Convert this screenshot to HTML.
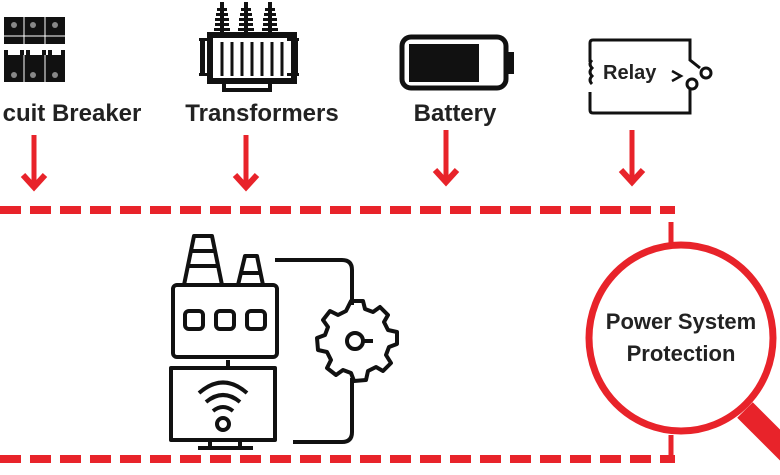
<!DOCTYPE html>
<html><head><style>
body{margin:0;width:780px;height:470px;overflow:hidden;background:#fff;font-family:"Liberation Sans",sans-serif;}
</style></head><body>
<svg width="780" height="470" xmlns="http://www.w3.org/2000/svg">
<defs>
<g id="arr"><line x1="0" y1="0" x2="0" y2="50" stroke="#e8232a" stroke-width="5"/><polyline points="-11,40 0,52 11,40" fill="none" stroke="#e8232a" stroke-width="6"/></g>
<g id="ins" fill="#111"><rect x="-2" y="0" width="4" height="32"/><rect x="-5" y="6" width="10" height="3"/><rect x="-6" y="11" width="12" height="3"/><rect x="-7" y="16" width="14" height="3"/><rect x="-7" y="21" width="14" height="3"/><rect x="-8" y="26" width="16" height="3"/></g>
</defs>
<!-- circuit breaker -->
<g fill="#111">
<rect x="4" y="17" width="61" height="27"/><rect x="4" y="55" width="61" height="27"/>
<rect x="4" y="50" width="4" height="6"/><rect x="20" y="50" width="4" height="6"/><rect x="26" y="50" width="4" height="6"/><rect x="42" y="50" width="4" height="6"/><rect x="48" y="50" width="4" height="6"/><rect x="61" y="50" width="4" height="6"/>
</g>
<g stroke="#fff" stroke-width="1"><line x1="24" y1="17" x2="24" y2="44"/><line x1="45" y1="17" x2="45" y2="44"/><line x1="24" y1="55" x2="24" y2="82"/><line x1="45" y1="55" x2="45" y2="82"/><line x1="4" y1="36" x2="65" y2="36"/></g>
<g fill="#888"><circle cx="14" cy="25" r="3"/><circle cx="33" cy="25" r="3"/><circle cx="55" cy="25" r="3"/><circle cx="14" cy="75" r="3"/><circle cx="33" cy="75" r="3"/><circle cx="55" cy="75" r="3"/></g>
<g font-size="24" font-weight="bold" fill="#222" text-anchor="middle">
<text x="72" y="121">cuit Breaker</text>
<text x="262" y="121">Transformers</text>
<text x="455" y="121">Battery</text>
</g>
<!-- transformer -->
<use href="#ins" x="222" y="2"/><use href="#ins" x="246" y="2"/><use href="#ins" x="270" y="2"/>
<g fill="#111">
<rect x="210" y="35" width="84" height="46" fill="none" stroke="#111" stroke-width="6"/>
<rect x="200" y="38" width="5" height="38"/><rect x="199" y="38" width="12" height="3"/><rect x="199" y="73" width="12" height="3"/>
<rect x="293" y="38" width="5" height="38"/><rect x="287" y="38" width="12" height="3"/><rect x="287" y="73" width="12" height="3"/>
<rect x="222" y="88" width="50" height="4"/><rect x="222" y="82" width="4" height="10"/><rect x="268" y="82" width="4" height="10"/>
</g>
<g stroke="#111" stroke-width="3"><line x1="222" y1="42" x2="222" y2="76"/><line x1="232" y1="42" x2="232" y2="76"/><line x1="242" y1="42" x2="242" y2="76"/><line x1="252" y1="42" x2="252" y2="76"/><line x1="262" y1="42" x2="262" y2="76"/><line x1="272" y1="42" x2="272" y2="76"/><line x1="282" y1="42" x2="282" y2="76"/></g>
<!-- battery -->
<rect x="402" y="37" width="104" height="51" rx="9" fill="none" stroke="#111" stroke-width="5"/>
<rect x="409" y="44" width="70" height="38" fill="#111"/>
<rect x="507" y="52" width="7" height="22" fill="#111"/>
<!-- relay -->
<path d="M590,62 V43 Q590,40 593,40 H690 V60 L700,68 M690,88 V113 H593 Q590,113 590,110 V92" fill="none" stroke="#111" stroke-width="3"/>
<path d="M592,60 q-4,4 0,8 q-4,4 0,8 q-4,4 0,8" fill="none" stroke="#111" stroke-width="3"/>
<circle cx="706" cy="73" r="5" fill="none" stroke="#111" stroke-width="3"/>
<circle cx="692" cy="84" r="5" fill="none" stroke="#111" stroke-width="3"/>
<text x="603" y="79" font-size="20" font-weight="bold" fill="#222">Relay</text>
<polyline points="672,71 681,76 672,81" fill="none" stroke="#111" stroke-width="2.5"/>
<!-- arrows -->
<use href="#arr" x="34" y="135"/><use href="#arr" x="246" y="135"/><use href="#arr" x="446" y="130"/><use href="#arr" x="632" y="130"/>
<!-- dashed box -->
<line x1="0" y1="210" x2="675" y2="210" stroke="#e8232a" stroke-width="8" stroke-dasharray="21,9"/>
<line x1="0" y1="459" x2="675" y2="459" stroke="#e8232a" stroke-width="8" stroke-dasharray="21,9"/>
<line x1="671" y1="222" x2="671" y2="245" stroke="#e8232a" stroke-width="5"/>
<line x1="671" y1="435" x2="671" y2="455" stroke="#e8232a" stroke-width="5"/>
<!-- magnifier -->
<line x1="745" y1="410" x2="790" y2="455" stroke="#e8232a" stroke-width="22"/>
<ellipse cx="681" cy="338" rx="92" ry="93" fill="#fff" stroke="#e8232a" stroke-width="7"/>
<text x="681" y="329" font-size="22" font-weight="bold" text-anchor="middle" fill="#222">Power System</text>
<text x="681" y="361" font-size="22" font-weight="bold" text-anchor="middle" fill="#222">Protection</text>
<!-- factory -->
<g fill="none" stroke="#111" stroke-width="4" stroke-linejoin="round">
<path d="M184,285 L194,236 H212 L222,285 M188,266 H219 M191,251 H216"/>
<path d="M238,285 L245,256 H257 L263,285 M240,273 H261"/>
<rect x="173" y="285" width="104" height="72" rx="4"/>
<rect x="185" y="311" width="18" height="18" rx="4"/><rect x="216" y="311" width="18" height="18" rx="4"/><rect x="247" y="311" width="18" height="18" rx="4"/>
<line x1="228" y1="360" x2="228" y2="368"/>
<rect x="171" y="368" width="104" height="72"/>
<line x1="210" y1="440" x2="210" y2="448"/><line x1="240" y1="440" x2="240" y2="448"/><line x1="198" y1="448" x2="253" y2="448"/>
<path d="M199,393 Q223,372 247,393 M206,402 Q223,388 240,402 M213,411 Q223,403 233,411"/>
<circle cx="223" cy="424" r="6"/>
<path d="M275,260 H342 Q352,260 352,270 V305 M352,378 V432 Q352,442 342,442 H293"/>
</g>
<!-- gear -->
<g transform="translate(357,341)" fill="none" stroke="#111" stroke-width="4" stroke-linejoin="round">
<path d="M-6,-40 L6,-40 L8,-32 L16,-29 L23,-34 L31,-26 L27,-19 L31,-11 L40,-9 L40,3 L32,6 L29,14 L34,22 L26,30 L19,26 L11,30 L9,39 L-3,40 L-6,32 L-14,29 L-21,34 L-30,27 L-26,19 L-30,11 L-39,9 L-40,-3 L-32,-6 L-29,-14 L-34,-21 L-27,-30 L-19,-26 L-11,-30 Z"/>
<circle cx="-2" cy="0" r="8"/><line x1="6" y1="0" x2="16" y2="0"/>
</g>
</svg>
</body></html>
